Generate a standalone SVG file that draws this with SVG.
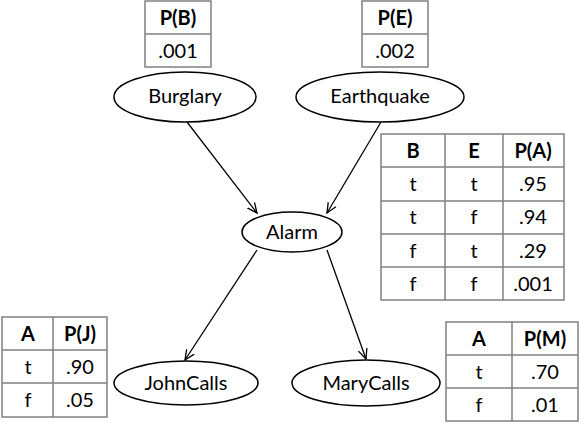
<svg xmlns="http://www.w3.org/2000/svg" width="580" height="424" viewBox="0 0 580 424">
<style>
.n{fill:#fff;stroke:#000;stroke-width:1.5}
.t{font-family:Lato,"Liberation Sans",sans-serif;font-size:20px;fill:#000;text-anchor:middle}
.h{font-weight:bold}
.g{fill:#fff;stroke:#808080;stroke-width:1.5}
.l{stroke:#808080;stroke-width:1.5}
.c{stroke:#000;stroke-width:1.3;fill:none;marker-end:url(#a)}
</style>
<defs>
<marker id="a" markerWidth="12" markerHeight="12" refX="10" refY="5" orient="auto" markerUnits="userSpaceOnUse" viewBox="0 0 12 10">
<polyline points="0,0.5 10,5 0,9.5" fill="none" stroke="#000" stroke-width="1.3"/>
</marker>
</defs>
<g id="connectors">
<line class="c" x1="187" y1="122" x2="257" y2="213"/>
<line class="c" x1="381" y1="122" x2="327" y2="213"/>
<line class="c" x1="257" y1="250" x2="185" y2="360"/>
<line class="c" x1="327" y1="250" x2="366" y2="359"/>
</g>
<g id="tableB">
<rect class="g" x="145" y="1" width="66" height="66"/>
<line class="l" x1="145" y1="34" x2="211" y2="34"/>
<text class="t h" x="178" y="25">P(B)</text>
<text class="t" x="178" y="58">.001</text>
</g>
<g id="tableE">
<rect class="g" x="362" y="1" width="66" height="66"/>
<line class="l" x1="362" y1="34" x2="428" y2="34"/>
<text class="t h" x="395" y="25">P(E)</text>
<text class="t" x="395" y="58">.002</text>
</g>
<g id="burglary">
<ellipse class="n" cx="185" cy="97" rx="71" ry="25"/>
<text class="t" x="185" y="103">Burglary</text>
</g>
<g id="earthquake">
<ellipse class="n" cx="380" cy="97" rx="84" ry="25"/>
<text class="t" x="380" y="103">Earthquake</text>
</g>
<g id="alarm">
<ellipse class="n" cx="292" cy="232" rx="50" ry="20"/>
<text class="t" x="292" y="239">Alarm</text>
</g>
<g id="johncalls">
<ellipse class="n" cx="186" cy="383" rx="72" ry="22"/>
<text class="t" x="186" y="390">JohnCalls</text>
</g>
<g id="marycalls">
<ellipse class="n" cx="366" cy="383" rx="74" ry="23"/>
<text class="t" x="366" y="390">MaryCalls</text>
</g>
<g id="tableA">
<rect class="g" x="381" y="134" width="183" height="166"/>
<line class="l" x1="381" y1="167" x2="564" y2="167"/>
<line class="l" x1="381" y1="201" x2="564" y2="201"/>
<line class="l" x1="381" y1="234" x2="564" y2="234"/>
<line class="l" x1="381" y1="267" x2="564" y2="267"/>
<line class="l" x1="445" y1="134" x2="445" y2="300"/>
<line class="l" x1="503" y1="134" x2="503" y2="300"/>
<text class="t h" x="413" y="158">B</text>
<text class="t h" x="474" y="158">E</text>
<text class="t h" x="533" y="158">P(A)</text>
<text class="t" x="413" y="191">t</text><text class="t" x="474" y="191">t</text><text class="t" x="533" y="191">.95</text>
<text class="t" x="413" y="224">t</text><text class="t" x="474" y="224">f</text><text class="t" x="533" y="224">.94</text>
<text class="t" x="413" y="258">f</text><text class="t" x="474" y="258">t</text><text class="t" x="533" y="258">.29</text>
<text class="t" x="413" y="291">f</text><text class="t" x="474" y="291">f</text><text class="t" x="533" y="291">.001</text>
</g>
<g id="tableJ">
<rect class="g" x="2" y="317" width="105" height="100"/>
<line class="l" x1="2" y1="350" x2="107" y2="350"/>
<line class="l" x1="2" y1="383" x2="107" y2="383"/>
<line class="l" x1="53" y1="317" x2="53" y2="417"/>
<text class="t h" x="28" y="341">A</text>
<text class="t h" x="80" y="341">P(J)</text>
<text class="t" x="28" y="374">t</text><text class="t" x="80" y="374">.90</text>
<text class="t" x="28" y="407">f</text><text class="t" x="80" y="407">.05</text>
</g>
<g id="tableM">
<rect class="g" x="446" y="322" width="132" height="99"/>
<line class="l" x1="446" y1="355" x2="578" y2="355"/>
<line class="l" x1="446" y1="388" x2="578" y2="388"/>
<line class="l" x1="512" y1="322" x2="512" y2="421"/>
<text class="t h" x="479" y="346">A</text>
<text class="t h" x="545" y="346">P(M)</text>
<text class="t" x="479" y="379">t</text><text class="t" x="545" y="379">.70</text>
<text class="t" x="479" y="412">f</text><text class="t" x="545" y="412">.01</text>
</g>
</svg>
